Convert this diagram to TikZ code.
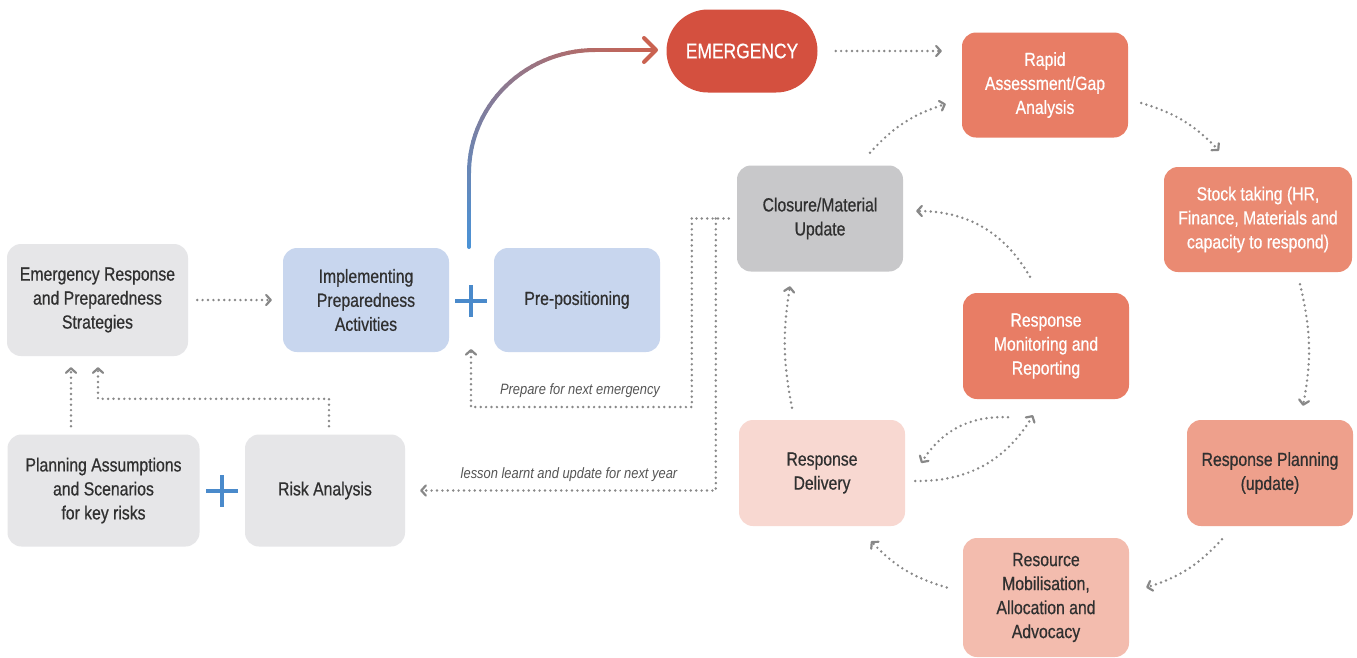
\documentclass[tikz,border=0pt]{standalone}
\usepackage{fontspec}
\setmainfont[FakeStretch=0.83,FakeBold=0.6]{Liberation Sans}
\newfontfamily\lblfont[FakeStretch=0.86]{Liberation Sans}
\usetikzlibrary{arrows.meta,calc}
\definecolor{boxgray}{HTML}{E6E6E8}
\definecolor{boxblue}{HTML}{C8D6EE}
\definecolor{closegray}{HTML}{C8C8CA}
\definecolor{emred}{HTML}{D4503F}
\definecolor{coral}{HTML}{E87D65}
\definecolor{coraltwo}{HTML}{EA8A72}
\definecolor{salmon}{HTML}{EEA08C}
\definecolor{peach}{HTML}{F3BCAE}
\definecolor{blush}{HTML}{F8D8D1}
\definecolor{plusblue}{HTML}{4A8ACB}
\definecolor{dotgray}{HTML}{888888}
\definecolor{txt}{HTML}{303030}
\definecolor{lbltxt}{HTML}{555555}
\definecolor{gradblue}{HTML}{4A92D6}
\definecolor{gradred}{HTML}{CA6250}
\begin{document}
\begin{tikzpicture}[x=1pt,y=-1pt,
  box/.style={rounded corners=14pt, inner sep=0pt, align=center, text=txt,
    font=\fontsize{19}{24}\selectfont},
  wbox/.style={box, text=white},
  lbl/.style={inner sep=0pt, text=lbltxt, font=\lblfont\fontsize{15}{17}\selectfont\itshape},
  dotline/.style={draw=dotgray, line width=2.7pt, line cap=round, dash pattern=on 0pt off 5.4pt},
  dotarrow/.style={dotline, -{Straight Barb[length=4.5pt,width=10pt,line width=2.2pt,round]}},
  plusmark/.style={draw=plusblue, line width=4.5pt},
  gradstroke/.style={line width=4pt, line cap=round, line join=round}
]
\useasboundingbox (0,0) rectangle (1357,657);
\fill[white] (0,0) rectangle (1357,657);

% left part
\node[box, fill=boxgray, minimum width=181pt, minimum height=112pt] (ers) at (97.5,300)
  {Emergency Response\\and Preparedness\\Strategies};
\node[box, fill=boxblue, minimum width=166pt, minimum height=104pt] (impl) at (366,300)
  {Implementing\\Preparedness\\Activities};
\node[box, fill=boxblue, minimum width=166pt, minimum height=104pt] (prepos) at (577,300)
  {Pre-positioning};
\node[box, fill=boxgray, minimum width=192pt, minimum height=112pt] (plan) at (103.5,490.5)
  {Planning Assumptions\\and Scenarios\\for key risks};
\node[box, fill=boxgray, minimum width=160pt, minimum height=112pt] (risk) at (325,490.5)
  {Risk Analysis};

\coordinate (plusA) at (471,301);
\coordinate (plusB) at (222,491);
\draw[plusmark] ([yshift=16pt]plusA) -- ([yshift=-16pt]plusA) ([xshift=-16pt]plusA) -- ([xshift=16pt]plusA);
\draw[plusmark] ([yshift=16pt]plusB) -- ([yshift=-16pt]plusB) ([xshift=-16pt]plusB) -- ([xshift=16pt]plusB);

% right part
\node[wbox, fill=emred, rounded corners=41.5pt, minimum width=151pt, minimum height=83pt,
  font=\fontsize{21}{24}\selectfont] (emerg) at (742,51) {\raisebox{-2pt}{EMERGENCY}};
\node[wbox, fill=coral, minimum width=166pt, minimum height=105pt] (rapid) at (1045,85)
  {Rapid\\Assessment/Gap\\Analysis};
\node[wbox, fill=coraltwo, minimum width=188pt, minimum height=105pt] (stock) at (1258,219.5)
  {Stock taking (HR,\\Finance, Materials and\\capacity to respond)};
\node[box, fill=closegray, minimum width=166pt, minimum height=106pt] (closure) at (820,218.5)
  {Closure/Material\\Update};
\node[wbox, fill=coral, minimum width=166pt, minimum height=106pt] (monitor) at (1046,346)
  {Response\\Monitoring and\\Reporting};
\node[box, fill=blush, minimum width=166pt, minimum height=106pt] (delivery) at (822,473)
  {Response\\Delivery};
\node[box, fill=salmon, minimum width=166pt, minimum height=106pt] (planning) at (1270,473)
  {Response Planning\\(update)};
\node[box, fill=peach, minimum width=166pt, minimum height=119pt] (resource) at (1046,597.5)
  {Resource\\Mobilisation,\\Allocation and\\Advocacy};

% gradient arrow from preparedness to emergency
\foreach \i in {0,...,7} {
  \pgfmathsetmacro\yA{247-\i*9.25}
  \pgfmathsetmacro\yB{247-(\i+1)*9.25}
  \pgfmathtruncatemacro\p{(\i+0.5)*9.25/3.25}
  \draw[gradstroke, draw=gradred!\p!gradblue] (469,\yA) -- (469,\yB);
}
\foreach \i in {0,...,29} {
  \pgfmathsetmacro\aA{\i*3}
  \pgfmathsetmacro\aB{(\i+1)*3}
  \pgfmathtruncatemacro\p{(74+(\i+0.5)/30*196)/3.25}
  \draw[gradstroke, draw=gradred!\p!gradblue]
    ({595-126*cos(\aA)},{173-123*sin(\aA)}) -- ({595-126*cos(\aB)},{173-123*sin(\aB)});
}
\foreach \i in {0,...,3} {
  \pgfmathsetmacro\xA{595+\i*15}
  \pgfmathsetmacro\xB{595+(\i+1)*15}
  \pgfmathtruncatemacro\p{(270+(\i+0.5)*13.75)/3.25}
  \draw[gradstroke, draw=gradred!\p!gradblue] (\xA,50) -- (\xB,50);
}
\draw[gradstroke, draw=gradred] (644,38) -- (656,50) -- (644,62);

% dotted connectors, left
\draw[dotarrow] ([xshift=9pt]ers.east) -- ([xshift=-11pt]impl.west);
\draw[dotarrow] ($(plan.north)+(-32.5,-8)$) -- ($(ers.south)+(-26.5,11)$);
\draw[dotarrow] ($(risk.north)+(4,-8)$) -- ++(0,-27.5) -| ($(ers.south)+(0.5,11)$);

% feedback from closure
\coordinate (cl) at ($(closure.west)+(-8,0)$);
\coordinate (cl2) at ($(cl)+(-37,0)$);
\coordinate (cl3) at ($(cl)+(-13,0)$);
\draw[dotline] (cl) -- (cl2);
\draw[dotarrow] (cl2) |- ($(plusA)+(0,106)$) -- ($(plusA)+(0,48)$);
\draw[dotarrow] (cl3) |- ($(risk.east)+(15,0)$);
\node[lbl] (lbA) at (580,391) {Prepare for next emergency};
\node[lbl] (lbB) at (569,475) {lesson learnt and update for next year};

% cycle
\draw[dotarrow] ($(emerg.east)+(18,0)$) -- ($(rapid.west|-emerg.east)+(-20,0)$);
\draw[dotarrow] ($(closure.north)+(50,-12.5)$) to[bend left=15] ($(rapid.west)+(-16,19)$);
\draw[dotarrow] ($(rapid.east)+(13,18)$) to[bend left=15] ($(stock.north)+(-39,-16)$);
\draw[dotarrow] ($(stock.south)+(42,12)$) to[bend left=12] ($(planning.north)+(33,-14)$);
\draw[dotarrow] ($(planning.south)+(-48,13)$) to[bend left=15] ($(resource.east)+(17,-10)$);
\draw[dotarrow] ($(resource.west)+(-16,-10)$) to[bend left=15] ($(delivery.south)+(49,15)$);
\draw[dotarrow] ($(delivery.north)+(-30,-12)$) to[bend left=10] ($(closure.south)+(-30,14.5)$);
\draw[dotarrow] ($(monitor.north)+(-16,-16)$) to[bend right=30] ($(closure.east)+(13,-7.5)$);
\draw[dotarrow] ($(monitor.south)+(-38,18)$) to[bend right=30] ($(delivery.east)+(16,-10)$);
\draw[dotarrow] ($(delivery.east)+(10,8)$) to[bend right=30] ($(monitor.south)+(-13,16)$);
\end{tikzpicture}
\end{document}
